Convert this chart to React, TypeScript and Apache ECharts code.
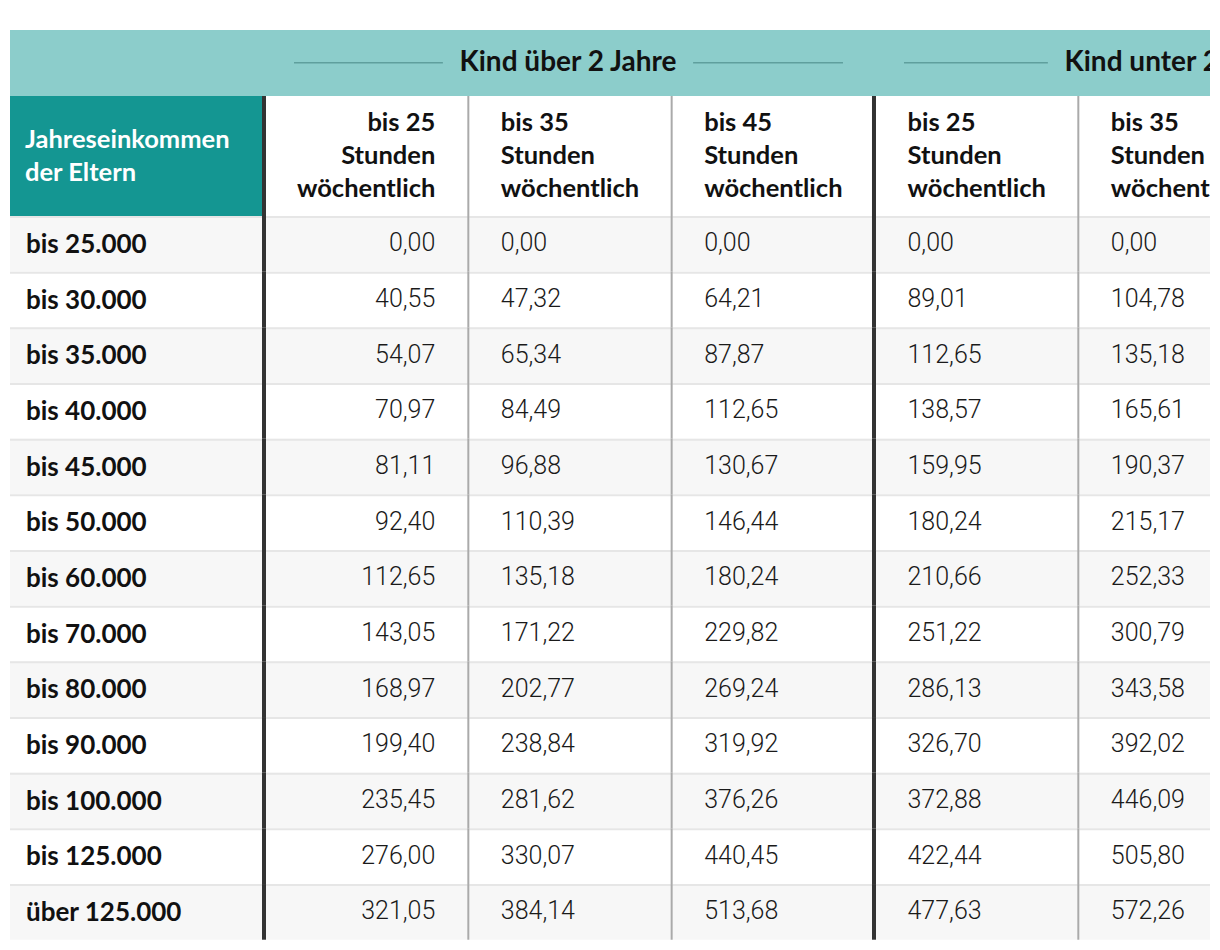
import React, { useEffect, useRef } from "react";
import * as echarts from "echarts";

const incomeBands = [
  "bis 25.000", "bis 30.000", "bis 35.000", "bis 40.000", "bis 45.000",
  "bis 50.000", "bis 60.000", "bis 70.000", "bis 80.000", "bis 90.000",
  "bis 100.000", "bis 125.000", "über 125.000",
];
const hourColumns = [
  "bis 25\nStunden\nwöchentlich",
  "bis 35\nStunden\nwöchentlich",
  "bis 45\nStunden\nwöchentlich",
  "bis 25\nStunden\nwöchentlich",
  "bis 35\nStunden\nwöchentlich",
];
const ageGroups = ["Kind über 2 Jahre", "Kind unter 2 Jahre"];
const rowHeaderTitle = "Jahreseinkommen\nder Eltern";

const over2_25h = [0, 40.55, 54.07, 70.97, 81.11, 92.4, 112.65, 143.05, 168.97, 199.4, 235.45, 276.0, 321.05];
const over2_35h = [0, 47.32, 65.34, 84.49, 96.88, 110.39, 135.18, 171.22, 202.77, 238.84, 281.62, 330.07, 384.14];
const over2_45h = [0, 64.21, 87.87, 112.65, 130.67, 146.44, 180.24, 229.82, 269.24, 319.92, 376.26, 440.45, 513.68];
const under2_25h = [0, 89.01, 112.65, 138.57, 159.95, 180.24, 210.66, 251.22, 286.13, 326.7, 372.88, 422.44, 477.63];
const under2_35h = [0, 104.78, 135.18, 165.61, 190.37, 215.17, 252.33, 300.79, 343.58, 392.02, 446.09, 505.8, 572.26];

const columnsData = [over2_25h, over2_35h, over2_45h, under2_25h, under2_35h];

const TABLE_LEFT = 10;
const BAND_TOP = 30;
const HEADER_TOP = 96;
const GRID_LEFT = 266;
const GRID_TOP = 216;
const COL_W = 203.33;
const ROW_H = 55.67;

const BOLD = "Lato";
const LIGHT = "Roboto";

function measure(text: string, font: string) {
  const c = document.createElement("canvas").getContext("2d");
  if (!c) return text.length * 12;
  c.font = font;
  return c.measureText(text).width;
}

function fmt(v: number) {
  return v.toFixed(2).replace(".", ",");
}

export default function App() {
  const ref = useRef<HTMLDivElement>(null);
  useEffect(() => {
    if (!ref.current) return;
    const chart = echarts.init(ref.current, undefined, { renderer: "svg" });
    const data: number[][] = [];
    columnsData.forEach((col, c) => col.forEach((v, r) => data.push([c, r, v])));

    const groupFont = `bold 28px ${BOLD}`;
    const headFont = `bold 25.5px ${BOLD}`;
    const rowFont = `bold 26px ${BOLD}`;

    chart.setOption({
      animation: false,
      grid: {
        left: GRID_LEFT,
        top: GRID_TOP,
        width: COL_W * hourColumns.length,
        height: ROW_H * incomeBands.length,
        containLabel: false,
      },
      xAxis: { type: "category", data: hourColumns, show: false },
      yAxis: { type: "category", data: incomeBands, inverse: true, show: false },
      graphic: [
        {
          type: "rect",
          shape: { x: TABLE_LEFT, y: BAND_TOP, width: 1400, height: HEADER_TOP - BAND_TOP },
          style: { fill: "#8ccdcb" },
          z: -1,
        },
      ],
      series: [
        {
          type: "custom",
          clip: false,
          data,
          renderItem: (params: any, api: any) => {
            const c = api.value(0) as number;
            const r = api.value(1) as number;
            const v = api.value(2) as number;
            const center = api.coord([c, r]);
            const size = api.size([1, 1]) as number[];
            const cw = size[0];
            const rh = size[1];
            const x0 = center[0] - cw / 2;
            const y0 = center[1] - rh / 2;
            const left = c === 0 ? TABLE_LEFT : x0;
            const children: any[] = [];
            children.push({
              type: "rect",
              z2: 0,
              shape: { x: left, y: y0, width: x0 + cw - left, height: rh },
              style: { fill: r % 2 === 0 ? "#f7f7f7" : "#ffffff" },
            });
            children.push({
              type: "rect",
              z2: 5,
              shape: { x: left, y: y0, width: x0 + cw - left, height: 2 },
              style: { fill: "#e6e6e6" },
            });
            if (c === 0) {
              children.push({
                type: "text",
                z2: 20,
                style: {
                  x: 26,
                  y: center[1] - 1,
                  text: incomeBands[r],
                  font: rowFont,
                  fill: "#111111",
                  align: "left",
                  verticalAlign: "middle",
                },
              });
            }
            children.push({
              type: "text",
              z2: 20,
              style: {
                x: c === 0 ? x0 + cw - 34 : x0 + 31.5,
                y: center[1] - 1,
                text: fmt(v),
                fontFamily: LIGHT,
                fontWeight: 300,
                fontSize: 25,
                fill: "#1a1a1a",
                align: c === 0 ? "right" : "left",
                verticalAlign: "middle",
              },
            });
            const thick = c % 3 === 0;
            const sepTop = r === 0 ? HEADER_TOP : y0;
            children.push({
              type: "rect",
              z2: 10,
              shape: { x: x0 - (thick ? 4 : 2), y: sepTop, width: thick ? 4 : 2, height: y0 + rh - sepTop },
              style: { fill: thick ? "#333333" : "#aaaaaa" },
            });
            if (r === 0) {
              children.push({
                type: "rect",
                z2: 1,
                shape: { x: x0, y: HEADER_TOP, width: cw, height: y0 - HEADER_TOP },
                style: { fill: "#ffffff" },
              });
              children.push({
                type: "text",
                z2: 20,
                style: {
                  x: c === 0 ? x0 + cw - 34 : x0 + 31.5,
                  y: (HEADER_TOP + y0) / 2 - 2,
                  text: hourColumns[c],
                  font: headFont,
                  lineHeight: 33,
                  fill: "#111111",
                  align: c === 0 ? "right" : "left",
                  verticalAlign: "middle",
                },
              });
              if (c === 0) {
                children.push({
                  type: "rect",
                  z2: 1,
                  shape: { x: TABLE_LEFT, y: HEADER_TOP, width: x0 - 4 - TABLE_LEFT, height: y0 - HEADER_TOP },
                  style: { fill: "#149692" },
                });
                children.push({
                  type: "text",
                  z2: 20,
                  style: {
                    x: 25,
                    y: (HEADER_TOP + y0) / 2 - 2,
                    text: rowHeaderTitle,
                    font: headFont,
                    lineHeight: 33,
                    fill: "#ffffff",
                    align: "left",
                    verticalAlign: "middle",
                  },
                });
              }
              if (c % 3 === 0) {
                const g = ageGroups[c / 3];
                const spanEnd = x0 + 3 * cw;
                const mid = (x0 + spanEnd) / 2 - 3;
                const tw = measure(g, groupFont);
                const ty = (BAND_TOP + HEADER_TOP) / 2 - 3;
                children.push({
                  type: "text",
                  z2: 20,
                  style: {
                    x: mid,
                    y: ty,
                    text: g,
                    font: groupFont,
                    fill: "#111111",
                    align: "center",
                    verticalAlign: "middle",
                  },
                });
                children.push({
                  type: "rect",
                  z2: 20,
                  shape: { x: x0 + 28, y: 62, width: mid - tw / 2 - 16 - (x0 + 28), height: 1.5 },
                  style: { fill: "#5f9f9d" },
                });
                children.push({
                  type: "rect",
                  z2: 20,
                  shape: { x: mid + tw / 2 + 16, y: 62, width: spanEnd - 33 - (mid + tw / 2 + 16), height: 1.5 },
                  style: { fill: "#5f9f9d" },
                });
              }
            }
            return { type: "group", children };
          },
        },
      ],
    });
    return () => chart.dispose();
  }, []);
  return (
    <div style={{ position: "absolute", left: 0, top: 0, width: 1210, height: 950, overflow: "hidden" }}>
      <div ref={ref} style={{ width: 1560, height: 950 }} />
    </div>
  );
}
